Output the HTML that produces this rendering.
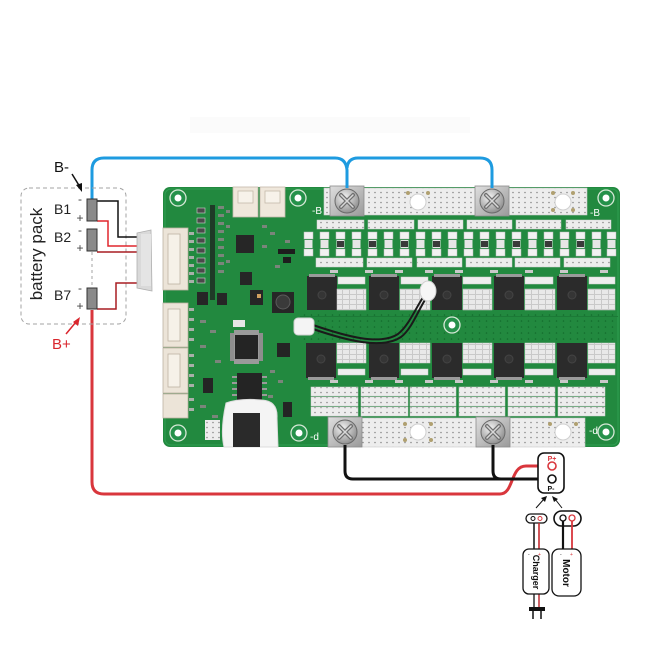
<!DOCTYPE html>
<html><head><meta charset="utf-8"><style>
html,body{margin:0;padding:0;background:#fff;}
svg{display:block}
</style></head><body>
<svg width="650" height="650" viewBox="0 0 650 650" xmlns="http://www.w3.org/2000/svg" font-family="Liberation Sans, Arial, sans-serif">
<defs>
<pattern id="dots" width="6" height="5" patternUnits="userSpaceOnUse"><rect width="6" height="5" fill="#ededed"/><circle cx="3" cy="2.5" r="0.8" fill="#8a8a8a"/></pattern>
<pattern id="lat" width="7" height="5" patternUnits="userSpaceOnUse"><rect width="7" height="5" fill="#e9e9e9"/><rect x="0" y="4" width="7" height="1" fill="#c9c9c9"/><rect x="6" y="0" width="1" height="5" fill="#c9c9c9"/></pattern>
<pattern id="vias" width="7" height="6" patternUnits="userSpaceOnUse"><circle cx="3.5" cy="3" r="0.8" fill="#136b2c"/></pattern>
<linearGradient id="metal" x1="0" y1="0" x2="1" y2="1"><stop offset="0" stop-color="#dedede"/><stop offset="1" stop-color="#9a9a9a"/></linearGradient>
<radialGradient id="scr" cx="0.4" cy="0.35" r="0.7"><stop offset="0" stop-color="#f4f4f4"/><stop offset="1" stop-color="#8a8a8a"/></radialGradient>
<g id="screw">
<rect x="-17" y="-15" width="34" height="30" fill="url(#metal)" stroke="#8c8c8c" stroke-width="0.8"/>
<circle r="12" fill="url(#scr)" stroke="#6a6a6a" stroke-width="1"/>
<path d="M-6,-6 L6,6 M6,-6 L-6,6" stroke="#707070" stroke-width="4" stroke-linecap="round"/>
<path d="M-6,-6 L6,6 M6,-6 L-6,6" stroke="#d8d8d8" stroke-width="1.5" stroke-linecap="round"/>
</g>
<g id="hole">
<circle r="8" fill="#25914a" stroke="#d6e8d6" stroke-width="1.3"/>
<circle r="3.5" fill="#fff"/>
</g>
<g id="mos">
<rect x="0" y="0" width="30" height="34" fill="#2b2b2b"/>
<rect x="2" y="-2" width="26" height="3" fill="#9a9a9a"/>
<circle cx="15" cy="19" r="4" fill="#353535" stroke="#444"/>
</g>
<g id="mosb">
<rect x="0" y="0" width="30" height="35" fill="#2b2b2b"/>
<rect x="2" y="34" width="26" height="3" fill="#9a9a9a"/>
<circle cx="15" cy="16" r="4" fill="#353535" stroke="#444"/>
</g>
<g id="res">
<rect x="0" y="0" width="9" height="7" fill="#f2f2f2" stroke="#bbb" stroke-width="0.5"/>
<rect x="0" y="17" width="9" height="7" fill="#f2f2f2" stroke="#bbb" stroke-width="0.5"/>
<rect x="0.5" y="8" width="8" height="8" fill="#e6e6e6"/>
</g>
</defs>

<!-- faint text band -->
<rect x="190" y="117" width="280" height="16" fill="#fbfbfb"/>

<!-- PCB -->
<rect x="163" y="187" width="457" height="260" rx="7" fill="#22893f"/>
<rect x="165" y="189" width="453" height="256" rx="6" fill="none" stroke="#2f9f52" stroke-width="1"/>
<!-- middle via band -->
<rect x="300" y="312" width="318" height="30" fill="url(#vias)"/>
<rect x="300" y="316" width="318" height="1" fill="#1c7a37"/>

<!-- corner holes -->
<use href="#hole" x="178" y="198"/>
<use href="#hole" x="298" y="198"/>
<use href="#hole" x="606" y="198"/>
<use href="#hole" x="178" y="433"/>
<use href="#hole" x="299" y="433"/>
<use href="#hole" x="606" y="432"/>
<use href="#hole" x="452" y="325"/>

<!-- top busbar -->
<rect x="324" y="188" width="263" height="27" fill="url(#dots)" stroke="#c8c8c8" stroke-width="0.6"/>
<circle cx="418" cy="202" r="8" fill="#fff" stroke="#cfcfcf"/>
<circle cx="563" cy="202" r="8" fill="#fff" stroke="#cfcfcf"/>
<circle cx="408" cy="193" r="2" fill="#b0a070"/><circle cx="428" cy="193" r="2" fill="#b0a070"/>
<circle cx="553" cy="193" r="2" fill="#b0a070"/><circle cx="573" cy="193" r="2" fill="#b0a070"/>
<circle cx="553" cy="210" r="2" fill="#b0a070"/><circle cx="573" cy="210" r="2" fill="#b0a070"/>
<text x="312" y="214" font-size="10" fill="#fff">-B</text>
<text x="590" y="216" font-size="10" fill="#fff">-B</text>

<!-- top strip rows -->
<g fill="url(#dots)" stroke="#cfcfcf" stroke-width="0.5">
<rect x="317" y="220" width="47" height="9"/><rect x="368" y="220" width="46" height="9"/><rect x="418" y="220" width="45" height="9"/><rect x="467" y="220" width="45" height="9"/><rect x="516" y="220" width="45" height="9"/><rect x="566" y="220" width="45" height="9"/>
<rect x="316" y="258" width="47" height="9"/><rect x="367" y="258" width="45" height="9"/><rect x="417" y="258" width="45" height="9"/><rect x="466" y="258" width="46" height="9"/><rect x="515" y="258" width="45" height="9"/><rect x="564" y="258" width="46" height="9"/>
</g>
<!-- resistor row -->
<use href="#res" x="304" y="232"/><use href="#res" x="320" y="232"/><use href="#res" x="336" y="232"/><use href="#res" x="352" y="232"/>
<use href="#res" x="368" y="232"/><use href="#res" x="384" y="232"/><use href="#res" x="400" y="232"/><use href="#res" x="416" y="232"/>
<use href="#res" x="432" y="232"/><use href="#res" x="448" y="232"/><use href="#res" x="464" y="232"/><use href="#res" x="480" y="232"/>
<use href="#res" x="496" y="232"/><use href="#res" x="512" y="232"/><use href="#res" x="528" y="232"/><use href="#res" x="544" y="232"/>
<use href="#res" x="560" y="232"/><use href="#res" x="576" y="232"/><use href="#res" x="592" y="232"/><use href="#res" x="607" y="232"/>
<g fill="#3a3a3a">
<rect x="337" y="241" width="7" height="6"/><rect x="369" y="241" width="7" height="6"/><rect x="401" y="241" width="7" height="6"/><rect x="433" y="241" width="7" height="6"/><rect x="481" y="241" width="7" height="6"/><rect x="513" y="241" width="7" height="6"/><rect x="545" y="241" width="7" height="6"/><rect x="577" y="241" width="7" height="6"/>
</g>
<!-- tiny label parts row -->
<g fill="#c9c9c9">
<rect x="330" y="270" width="8" height="3"/><rect x="365" y="270" width="8" height="3"/><rect x="395" y="270" width="8" height="3"/><rect x="425" y="270" width="8" height="3"/><rect x="455" y="270" width="8" height="3"/><rect x="490" y="270" width="8" height="3"/><rect x="525" y="270" width="8" height="3"/><rect x="560" y="270" width="8" height="3"/><rect x="600" y="270" width="8" height="3"/>
<rect x="330" y="380" width="8" height="3"/><rect x="365" y="380" width="8" height="3"/><rect x="395" y="380" width="8" height="3"/><rect x="425" y="380" width="8" height="3"/><rect x="455" y="380" width="8" height="3"/><rect x="490" y="380" width="8" height="3"/><rect x="525" y="380" width="8" height="3"/><rect x="560" y="380" width="8" height="3"/><rect x="600" y="380" width="8" height="3"/>
</g>

<!-- top MOSFET row -->
<use href="#mos" x="307" y="276"/><use href="#mos" x="369" y="276"/><use href="#mos" x="432" y="276"/><use href="#mos" x="494" y="276"/><use href="#mos" x="557" y="276"/>
<g stroke="#cfcfcf" stroke-width="0.5">
<rect x="338" y="277" width="27" height="7" fill="#eee"/><rect x="401" y="277" width="27" height="7" fill="#eee"/><rect x="463" y="277" width="28" height="7" fill="#eee"/><rect x="525" y="277" width="28" height="7" fill="#eee"/><rect x="589" y="277" width="26" height="7" fill="#eee"/>
<rect x="337" y="289" width="29" height="21" fill="url(#lat)"/><rect x="400" y="289" width="30" height="21" fill="url(#lat)"/><rect x="463" y="289" width="29" height="21" fill="url(#lat)"/><rect x="525" y="289" width="30" height="21" fill="url(#lat)"/><rect x="588" y="289" width="27" height="21" fill="url(#lat)"/>
</g>
<!-- bottom MOSFET row -->
<use href="#mosb" x="306" y="343"/><use href="#mosb" x="369" y="343"/><use href="#mosb" x="432" y="343"/><use href="#mosb" x="494" y="343"/><use href="#mosb" x="557" y="343"/>
<g stroke="#cfcfcf" stroke-width="0.5">
<rect x="337" y="343" width="29" height="20" fill="url(#lat)"/><rect x="400" y="343" width="30" height="20" fill="url(#lat)"/><rect x="463" y="343" width="29" height="20" fill="url(#lat)"/><rect x="525" y="343" width="30" height="20" fill="url(#lat)"/><rect x="588" y="343" width="27" height="20" fill="url(#lat)"/>
<rect x="338" y="369" width="27" height="6" fill="#eee"/><rect x="401" y="369" width="27" height="6" fill="#eee"/><rect x="463" y="369" width="28" height="6" fill="#eee"/><rect x="525" y="369" width="28" height="6" fill="#eee"/><rect x="589" y="369" width="26" height="6" fill="#eee"/>
</g>

<!-- bottom strip rows -->
<g fill="url(#dots)" stroke="#cfcfcf" stroke-width="0.5">
<rect x="311" y="387" width="47" height="9"/><rect x="361" y="387" width="47" height="9"/><rect x="410" y="387" width="46" height="9"/><rect x="459" y="387" width="46" height="9"/><rect x="508" y="387" width="47" height="9"/><rect x="558" y="387" width="47" height="9"/>
<rect x="311" y="397" width="47" height="9"/><rect x="361" y="397" width="47" height="9"/><rect x="410" y="397" width="46" height="9"/><rect x="459" y="397" width="46" height="9"/><rect x="508" y="397" width="47" height="9"/><rect x="558" y="397" width="47" height="9"/>
<rect x="311" y="407" width="47" height="9"/><rect x="361" y="407" width="47" height="9"/><rect x="410" y="407" width="46" height="9"/><rect x="459" y="407" width="46" height="9"/><rect x="508" y="407" width="47" height="9"/><rect x="558" y="407" width="47" height="9"/>
</g>

<!-- bottom busbar -->
<rect x="329" y="418" width="256" height="29" fill="url(#dots)" stroke="#c8c8c8" stroke-width="0.6"/>
<circle cx="418" cy="432" r="8" fill="#fff" stroke="#cfcfcf"/>
<circle cx="563" cy="432" r="8" fill="#fff" stroke="#cfcfcf"/>
<circle cx="405" cy="424" r="2" fill="#b0a070"/><circle cx="431" cy="424" r="2" fill="#b0a070"/><circle cx="405" cy="440" r="2" fill="#b0a070"/><circle cx="431" cy="440" r="2" fill="#b0a070"/>
<circle cx="550" cy="424" r="2" fill="#b0a070"/><circle cx="576" cy="424" r="2" fill="#b0a070"/>
<text x="310" y="440" font-size="10" fill="#fff">-d</text>
<text x="589" y="434" font-size="10" fill="#fff">-d</text>

<!-- screws -->
<use href="#screw" x="347" y="201"/>
<use href="#screw" x="492" y="201"/>
<use href="#screw" x="345" y="432"/>
<use href="#screw" x="493" y="432"/>

<!-- left logic area -->
<!-- top JST -->
<g fill="#efe7db" stroke="#c4b9aa" stroke-width="0.8">
<rect x="233" y="187" width="25" height="30"/><rect x="260" y="187" width="25" height="30"/>
<rect x="238" y="191" width="15" height="12" fill="#f7f2ea"/><rect x="265" y="191" width="15" height="12" fill="#f7f2ea"/>
</g>
<!-- left JSTs -->
<g fill="#ece4d8" stroke="#bdb2a3" stroke-width="0.8">
<rect x="163" y="228" width="25" height="62"/>
<rect x="163" y="303" width="25" height="44"/>
<rect x="163" y="348" width="25" height="45"/>
<rect x="163" y="394" width="25" height="24"/>
<rect x="168" y="234" width="12" height="50" fill="#f6f1e8"/>
<rect x="168" y="309" width="12" height="32" fill="#f6f1e8"/>
<rect x="168" y="354" width="12" height="33" fill="#f6f1e8"/>
</g>
<!-- pin columns -->
<g fill="#a9b0a9">
<rect x="189" y="232" width="5" height="3"/><rect x="189" y="240" width="5" height="3"/><rect x="189" y="248" width="5" height="3"/><rect x="189" y="256" width="5" height="3"/><rect x="189" y="264" width="5" height="3"/><rect x="189" y="272" width="5" height="3"/><rect x="189" y="280" width="5" height="3"/>
<rect x="189" y="308" width="5" height="3"/><rect x="189" y="318" width="5" height="3"/><rect x="189" y="328" width="5" height="3"/><rect x="189" y="338" width="5" height="3"/>
<rect x="189" y="354" width="5" height="3"/><rect x="189" y="364" width="5" height="3"/><rect x="189" y="374" width="5" height="3"/><rect x="189" y="384" width="5" height="3"/>
<rect x="189" y="398" width="5" height="3"/><rect x="189" y="408" width="5" height="3"/>
</g>
<g fill="#4a4a4a" stroke="#cfd6cf" stroke-width="0.6">
<rect x="197" y="208" width="8" height="5"/><rect x="197" y="218" width="8" height="5"/><rect x="197" y="228" width="8" height="5"/><rect x="197" y="238" width="8" height="5"/><rect x="197" y="248" width="8" height="5"/><rect x="197" y="258" width="8" height="5"/><rect x="197" y="268" width="8" height="5"/><rect x="197" y="278" width="8" height="5"/>
</g>
<rect x="210" y="205" width="5" height="95" fill="#1f3a27"/>
<g fill="#7b857b">
<rect x="218" y="206" width="6" height="3"/><rect x="218" y="214" width="6" height="3"/><rect x="218" y="222" width="6" height="3"/><rect x="218" y="230" width="6" height="3"/><rect x="218" y="238" width="6" height="3"/><rect x="218" y="246" width="6" height="3"/><rect x="218" y="254" width="6" height="3"/><rect x="218" y="262" width="6" height="3"/><rect x="218" y="270" width="6" height="3"/>
<rect x="226" y="210" width="4" height="3"/><rect x="226" y="225" width="4" height="3"/><rect x="226" y="260" width="4" height="3"/>
<rect x="262" y="225" width="5" height="3"/><rect x="270" y="232" width="5" height="3"/><rect x="262" y="245" width="5" height="3"/><rect x="285" y="240" width="5" height="3"/><rect x="275" y="265" width="5" height="3"/>
<rect x="200" y="320" width="6" height="3"/><rect x="210" y="330" width="6" height="3"/><rect x="200" y="345" width="6" height="3"/><rect x="215" y="360" width="6" height="3"/><rect x="200" y="405" width="6" height="3"/><rect x="212" y="415" width="6" height="3"/>
<rect x="270" y="370" width="5" height="3"/><rect x="278" y="380" width="5" height="3"/><rect x="268" y="395" width="5" height="3"/>
</g>
<!-- chips -->
<rect x="236" y="235" width="18" height="18" fill="#262626"/>
<rect x="240" y="272" width="12" height="13" fill="#262626"/>
<rect x="250" y="290" width="13" height="15" fill="#262626"/>
<rect x="197" y="292" width="11" height="13" fill="#262626"/>
<rect x="217" y="293" width="10" height="12" fill="#262626"/>
<rect x="278" y="249" width="17" height="5" fill="#1d1d1d"/>
<rect x="283" y="257" width="8" height="6" fill="#1d1d1d"/>
<rect x="257" y="294" width="4" height="4" fill="#d0a060"/>
<!-- inductor -->
<rect x="272" y="292" width="22" height="21" fill="#262626"/>
<circle cx="283" cy="302" r="7" fill="#3a3a3a" stroke="#5a5a5a"/>
<!-- ICs -->
<rect x="230" y="333" width="33" height="28" fill="#8e8e8e"/>
<rect x="234" y="330" width="25" height="34" fill="#9a9a9a"/>
<rect x="235" y="335" width="23" height="24" fill="#242424"/>
<rect x="237" y="373" width="25" height="27" fill="#242424"/>
<g fill="#9a9a9a"><rect x="232" y="376" width="5" height="2"/><rect x="232" y="382" width="5" height="2"/><rect x="232" y="388" width="5" height="2"/><rect x="232" y="394" width="5" height="2"/><rect x="262" y="376" width="5" height="2"/><rect x="262" y="382" width="5" height="2"/><rect x="262" y="388" width="5" height="2"/><rect x="262" y="394" width="5" height="2"/></g>
<rect x="203" y="378" width="10" height="15" fill="#242424"/>
<rect x="277" y="343" width="13" height="14" fill="#242424"/>
<rect x="283" y="402" width="9" height="15" fill="#242424"/>
<rect x="233" y="320" width="12" height="7" fill="#e6e6e6"/>
<rect x="205" y="420" width="15" height="20" fill="url(#dots)"/>
<!-- white potted component -->
<path d="M226,403 Q240,398 262,400 Q278,401 277,418 L278,447 L224,447 Q220,430 226,403 Z" fill="#f4f4f4" stroke="#dcdcdc"/>
<rect x="233" y="413" width="27" height="34" fill="#2a2a2a"/>

<!-- wire connector on board + wire -->
<path d="M313,325 C345,336 380,346 398,334 C410,325 418,302 427,292" fill="none" stroke="#1a1a1a" stroke-width="2"/>
<path d="M313,329 C345,340 382,350 401,337 C413,328 420,305 429,294" fill="none" stroke="#1a1a1a" stroke-width="2"/>
<rect x="294" y="318" width="20" height="17" rx="4" fill="#f4f4f4" stroke="#cfcfcf"/>
<ellipse cx="428" cy="291" rx="8" ry="10" fill="#f6f6f6" stroke="#cfcfcf"/>

<!-- BLUE wire -->
<path d="M92,199 V170 Q92,158 104,158 H335 Q346,158 347,170 V188 M358,158 Q348,158 347,168 M358,158 H480 Q492,158 492,170 V188" fill="none" stroke="#1e9be0" stroke-width="3"/>

<!-- RED main wire -->
<path d="M92,310 V482 Q92,494 104,494 H500 C514,494 510,466 526,466 H548" fill="none" stroke="#d9363c" stroke-width="3"/>
<!-- BLACK wires -->
<path d="M345,445 V471 Q345,479 353,479 H548 M493,445 V471 Q493,479 501,479" fill="none" stroke="#111" stroke-width="3"/>

<!-- battery pack box -->
<rect x="21" y="188" width="105" height="136" rx="8" fill="none" stroke="#a3a3a3" stroke-width="1" stroke-dasharray="4,3"/>
<line x1="92" y1="252" x2="92" y2="288" stroke="#a3a3a3" stroke-width="1" stroke-dasharray="3,3"/>
<text transform="translate(42,254) rotate(-90)" text-anchor="middle" font-size="17" fill="#222">battery pack</text>

<!-- balance wires -->
<path d="M97,201 H118 V237 H137" fill="none" stroke="#111" stroke-width="1.5"/>
<path d="M97,221 H108 V246 H137" fill="none" stroke="#e0262d" stroke-width="1.5"/>
<path d="M97,252 H137" fill="none" stroke="#a81d22" stroke-width="1.5"/>
<path d="M97,309 H116 V283 H137" fill="none" stroke="#a81d22" stroke-width="1.5"/>
<path d="M137,233 L151,230 L152,291 L137,288 Z" fill="#d9d9d9" stroke="#b0b0b0" stroke-width="0.8"/>
<rect x="141" y="234" width="10" height="52" fill="#e4e4e4"/>

<!-- cells -->
<g fill="#8a8a8a" stroke="#333" stroke-width="1">
<rect x="87" y="199" width="10" height="22"/>
<rect x="87" y="229" width="10" height="22"/>
<rect x="87" y="288" width="10" height="21"/>
</g>
<g font-size="14" fill="#222">
<text x="54" y="214">B1</text>
<text x="54" y="242">B2</text>
<text x="54" y="300">B7</text>
</g>
<g font-size="12" fill="#444" text-anchor="middle">
<text x="80" y="203">-</text><text x="80" y="222">+</text>
<text x="80" y="234">-</text><text x="80" y="252">+</text>
<text x="80" y="292">-</text><text x="80" y="310">+</text>
</g>
<text x="54" y="172" font-size="15" fill="#111">B-</text>
<path d="M72,174 L80,187" stroke="#111" stroke-width="1.5"/>
<path d="M82,192 L76,185 L82,183 Z" fill="#111"/>
<text x="52" y="349" font-size="15" fill="#d9262d">B+</text>
<path d="M66,334 L76,322" stroke="#d9262d" stroke-width="1.5"/>
<path d="M80,317 L78,326 L73,322 Z" fill="#d9262d"/>

<!-- P box -->
<rect x="538" y="453" width="26" height="40" rx="6" fill="#fff" stroke="#111" stroke-width="1.6"/>
<circle cx="552" cy="466" r="4" fill="#fff" stroke="#d9363c" stroke-width="1.6"/>
<circle cx="552" cy="479" r="4" fill="#fff" stroke="#111" stroke-width="1.6"/>
<text x="552" y="461" font-size="7" font-weight="bold" fill="#d9363c" text-anchor="middle">P+</text>
<text x="551" y="491" font-size="7" font-weight="bold" fill="#111" text-anchor="middle">P-</text>
<!-- arrows -->
<path d="M536,508 L544,499" stroke="#111" stroke-width="1"/>
<path d="M547,496 L541,498 L545,502 Z" fill="#111"/>
<path d="M562,508 L555,499" stroke="#111" stroke-width="1"/>
<path d="M552,496 L554,502 L558,499 Z" fill="#111"/>

<!-- charger -->
<path d="M534,518 V608 M539,518 V608" stroke="#111" stroke-width="1.3"/>
<path d="M539,518 V608" stroke="#d9363c" stroke-width="1.3"/>
<rect x="526" y="514" width="21" height="9" rx="4.5" fill="#fff" stroke="#111" stroke-width="1.3"/>
<circle cx="533" cy="518.5" r="2" fill="#fff" stroke="#111" stroke-width="1"/>
<circle cx="540" cy="518.5" r="2" fill="#fff" stroke="#d9363c" stroke-width="1"/>
<path d="M534,523 V548" stroke="#111" stroke-width="1.3"/>
<path d="M539,523 V548" stroke="#d9363c" stroke-width="1.3"/>
<rect x="523" y="549" width="26" height="45" rx="6" fill="#fff" stroke="#111" stroke-width="1.3"/>
<text transform="translate(533,572) rotate(90)" text-anchor="middle" font-size="9" font-weight="bold" fill="#111">Charger</text>
<path d="M529,607 H545 V611 H529 Z" fill="#111"/>
<path d="M533,611 V619 M541,611 V619" stroke="#111" stroke-width="1.5"/>

<!-- motor -->
<rect x="554" y="511" width="27" height="15" rx="7.5" fill="#fff" stroke="#111" stroke-width="1.6"/>
<circle cx="563" cy="518" r="3" fill="#fff" stroke="#111" stroke-width="1.3"/>
<circle cx="572" cy="518" r="3" fill="#fff" stroke="#d9363c" stroke-width="1.3"/>
<path d="M563,521 V549" stroke="#111" stroke-width="2.2"/>
<path d="M572,521 V549" stroke="#d9363c" stroke-width="1.8"/>
<rect x="552" y="549" width="29" height="47" rx="7" fill="#fff" stroke="#111" stroke-width="1.3"/>
<text transform="translate(563,573) rotate(90)" text-anchor="middle" font-size="10" font-weight="bold" fill="#111">Motor</text>
<text x="560" y="556" font-size="5" fill="#111">-</text><text x="570" y="556" font-size="5" fill="#d9363c">+</text>
<text x="528" y="556" font-size="5" fill="#111">-</text><text x="538" y="556" font-size="5" fill="#d9363c">+</text>
</svg>
</body></html>
